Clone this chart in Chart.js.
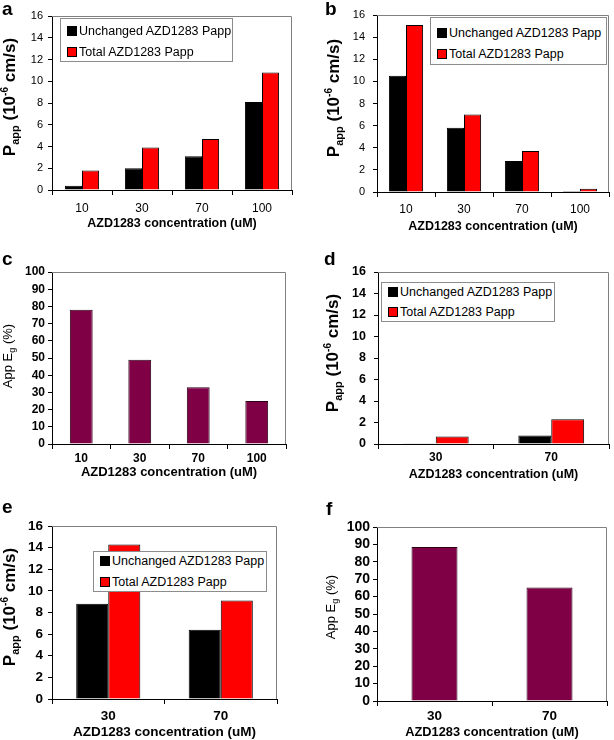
<!DOCTYPE html>
<html>
<head>
<meta charset="utf-8">
<script src="https://cdn.jsdelivr.net/npm/chart.js@4/dist/chart.umd.min.js"></script>
<style>
body { margin: 0; background: #fff; }
#fig { position: relative; width: 614px; height: 740px; overflow: hidden; font-family: "Liberation Sans", Arial, sans-serif; color: #000; }
canvas { position: absolute; }
.lbl { position: absolute; font-weight: bold; font-size: 19px; line-height: 19px; }
.yt { position: absolute; white-space: nowrap; transform: translate(-50%, -50%) rotate(-90deg); line-height: 1; }
.leg { position: absolute; background: #fff; border: 1px solid #8c8c8c; box-sizing: border-box; font-size: 12.5px; }
.leg div { position: absolute; left: 6px; white-space: nowrap; line-height: 14px; }
.leg i { display: inline-block; width: 10px; height: 10px; border: 1px solid #000; margin-right: 2px; vertical-align: -1px; box-sizing: border-box; }
</style>
</head>
<body>
<div id="fig">
  <canvas id="ca" width="307" height="240" style="left:0;top:0"></canvas>
  <canvas id="cb" width="307" height="240" style="left:307px;top:0"></canvas>
  <canvas id="cc" width="307" height="245" style="left:0;top:240px"></canvas>
  <canvas id="cd" width="307" height="245" style="left:307px;top:240px"></canvas>
  <canvas id="ce" width="307" height="255" style="left:0;top:485px"></canvas>
  <canvas id="cf" width="307" height="255" style="left:307px;top:485px"></canvas>

  <div class="lbl" style="left:2px;top:-1px">a</div>
  <div class="lbl" style="left:325px;top:-1px">b</div>
  <div class="lbl" style="left:2px;top:249px">c</div>
  <div class="lbl" style="left:324px;top:249px">d</div>
  <div class="lbl" style="left:2px;top:497px">e</div>
  <div class="lbl" style="left:326px;top:499px">f</div>
</div>

<script>
// valeurs
var concABC = ['10', '30', '70', '100'];
var concDEF = ['30', '70'];
var seriesNames = ['Unchanged AZD1283 Papp', 'Total AZD1283 Papp'];

var unchangedA = [0.4, 2.0, 3.1, 8.1];
var totalA = [1.8, 3.9, 4.7, 10.8];
var unchangedB = [10.5, 5.8, 2.8, 0.1];
var totalB = [15.1, 7.0, 3.7, 0.3];
var egC = [78, 49, 33, 25];
var unchangedD = [0.06, 0.8];
var totalD = [0.7, 2.3];
var unchangedE = [8.8, 6.4];
var totalE = [14.3, 9.1];
var egF = [88.5, 65.3];

var pappMax = 16, pappStep = 2;
var egMax = 100, egStep = 10;

var xTitle = 'AZD1283 concentration (uM)';
var pappTitle = 'P<span style="font-size:11px;vertical-align:-4px">app</span> (10<span style="font-size:10px;vertical-align:7px">-6</span> cm/s)';
var egTitle = 'App E<span style="font-size:9px;vertical-align:-3px">g</span> (%)';

var fig = document.getElementById('fig');

// cadre gris en haut et a droite
var frame = {
  id: 'frame',
  afterDatasetsDraw: function(chart) {
    var ctx = chart.ctx, a = chart.chartArea;
    ctx.save();
    ctx.strokeStyle = '#808080';
    ctx.lineWidth = 1;
    ctx.beginPath();
    ctx.moveTo(a.left, a.top + 0.5);
    ctx.lineTo(a.right - 0.5, a.top + 0.5);
    ctx.lineTo(a.right - 0.5, a.bottom);
    ctx.stroke();
    ctx.restore();
  }
};

function pairSets(unchanged, total) {
  return [
    { label: seriesNames[0], data: unchanged, backgroundColor: '#000000', borderColor: '#000000', borderWidth: 1 },
    { label: seriesNames[1], data: total, backgroundColor: '#ff0000', borderColor: '#000000', borderWidth: 1 }
  ];
}

function egSet(values) {
  return [{ label: 'App Eg', data: values, backgroundColor: '#800046', borderColor: '#2a0015', borderWidth: 1 }];
}

// p: position du canvas, o: options du panneau (zone de trace en coordonnees de page)
function panel(id, p, o) {
  var lh = o.titleSize * 1.2;
  return new Chart(document.getElementById(id), {
    type: 'bar',
    data: { labels: o.labels, datasets: o.datasets },
    plugins: [frame],
    options: {
      responsive: false,
      animation: false,
      devicePixelRatio: 1,
      layout: { padding: { left: 0, top: o.t - p.y, right: p.x + p.w - o.r, bottom: 0 } },
      datasets: { bar: { categoryPercentage: o.cat, barPercentage: 1 } },
      plugins: { legend: { display: false }, tooltip: { enabled: false } },
      scales: {
        x: {
          afterFit: function(s) { s.height = p.y + p.h - o.b; },
          grid: { drawOnChartArea: false, tickLength: 5, color: '#000', offset: true },
          border: { color: '#000' },
          ticks: { color: '#000', padding: o.xPad, font: { family: 'Liberation Sans', size: o.xSize, weight: o.xBold ? 'bold' : 'normal' } },
          title: { display: true, text: xTitle, color: '#000', padding: { top: 0, bottom: p.y + p.h - o.titleY - lh / 2 },
                   font: { family: 'Liberation Sans', size: o.titleSize, weight: 'bold' } }
        },
        y: {
          min: 0, max: o.max,
          afterFit: function(s) { s.width = o.l - p.x; },
          grid: { drawOnChartArea: false, tickLength: 4, color: '#000' },
          border: { color: '#000' },
          ticks: { stepSize: o.step, autoSkip: false, color: '#000', padding: o.yPad,
                   font: { family: 'Liberation Sans', size: o.ySize, weight: o.yBold ? 'bold' : 'normal' } }
        }
      }
    }
  });
}

function yTitle(html, cx, cy, size, bold) {
  var d = document.createElement('div');
  d.className = 'yt';
  d.style.left = cx + 'px';
  d.style.top = cy + 'px';
  d.style.fontSize = size + 'px';
  d.style.fontWeight = bold ? 'bold' : 'normal';
  d.innerHTML = html;
  fig.appendChild(d);
}

function legend(chart, x, y, w, h, rows) {
  var box = document.createElement('div');
  box.className = 'leg';
  box.style.left = x + 'px'; box.style.top = y + 'px';
  box.style.width = w + 'px'; box.style.height = h + 'px';
  chart.data.datasets.forEach(function(ds, i) {
    var r = document.createElement('div');
    r.style.top = (rows[i] - y - 8) + 'px';
    r.innerHTML = '<i style="background:' + ds.backgroundColor + '"></i>' + ds.label;
    box.appendChild(r);
  });
  fig.appendChild(box);
}

var chA = panel('ca', { x: 0, y: 0, w: 307, h: 240 }, {
  labels: concABC, datasets: pairSets(unchangedA, totalA), max: pappMax, step: pappStep,
  l: 52, t: 16, r: 292, b: 190, cat: 0.57,
  xPad: 6.8, xSize: 12, xBold: false, ySize: 11, yBold: false, yPad: 5, titleY: 224, titleSize: 12.5
});
var chB = panel('cb', { x: 307, y: 0, w: 307, h: 240 }, {
  labels: concABC, datasets: pairSets(unchangedB, totalB), max: pappMax, step: pappStep,
  l: 377, t: 15, r: 609, b: 192, cat: 0.59,
  xPad: 5.3, xSize: 12, xBold: false, ySize: 11, yBold: false, yPad: 8, titleY: 227, titleSize: 12.5
});
var chC = panel('cc', { x: 0, y: 240, w: 307, h: 245 }, {
  labels: concABC, datasets: egSet(egC), max: egMax, step: egStep,
  l: 52, t: 272, r: 286, b: 444, cat: 0.39,
  xPad: 2.8, xSize: 12, xBold: true, ySize: 12, yBold: true, yPad: 3, titleY: 472, titleSize: 13
});
var chD = panel('cd', { x: 307, y: 240, w: 307, h: 245 }, {
  labels: concDEF, datasets: pairSets(unchangedD, totalD), max: pappMax, step: pappStep,
  l: 378, t: 272, r: 609, b: 444, cat: 0.57,
  xPad: 1.8, xSize: 12, xBold: true, ySize: 12.5, yBold: true, yPad: 8, titleY: 475, titleSize: 12.5
});
var chE = panel('ce', { x: 0, y: 485, w: 307, h: 255 }, {
  labels: concDEF, datasets: pairSets(unchangedE, totalE), max: pappMax, step: pappStep,
  l: 52, t: 526, r: 277, b: 699, cat: 0.57,
  xPad: 3.8, xSize: 13.5, xBold: true, ySize: 13.5, yBold: true, yPad: 5, titleY: 732.5, titleSize: 13.5
});
var chF = panel('cf', { x: 307, y: 485, w: 307, h: 255 }, {
  labels: concDEF, datasets: egSet(egF), max: egMax, step: egStep,
  l: 377, t: 527, r: 607, b: 701, cat: 0.40,
  xPad: 1.8, xSize: 13.5, xBold: true, ySize: 14, yBold: true, yPad: 3, titleY: 732, titleSize: 12.8
});

yTitle(pappTitle, 10, 97, 17, true);
yTitle(pappTitle, 334, 98, 17, true);
yTitle(egTitle, 9, 356, 13, false);
yTitle(pappTitle, 333, 353, 17, true);
yTitle(pappTitle, 10, 607, 17, true);
yTitle(egTitle, 332, 607, 13, false);

legend(chA, 60, 18, 173, 44, [31, 52]);
legend(chB, 430, 17, 177, 48, [33, 54]);
legend(chD, 381, 282, 174, 40, [292, 312]);
legend(chE, 93, 551, 174, 41, [561, 582]);
</script>
</body>
</html>
